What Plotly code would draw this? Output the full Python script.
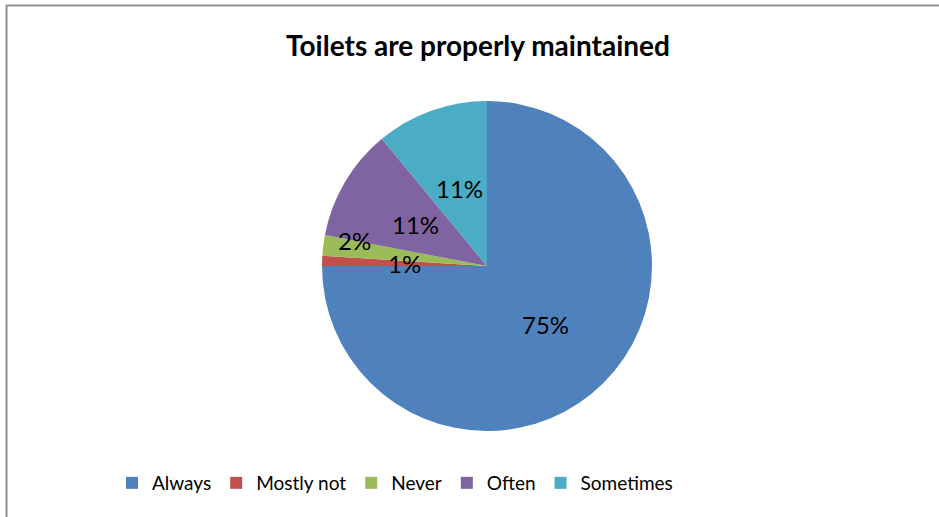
import math
import plotly.graph_objects as go

# ---- data ----
categories = ["Always", "Mostly not", "Never", "Often", "Sometimes"]
percentages = [75, 1, 2, 11, 11]
colors = ["#4F81BD", "#C0504D", "#9BBB59", "#8064A2", "#4BACC6"]
title_text = "Toilets are properly maintained"

# ---- layout constants ----
W, H = 939, 517
CX, CY, R = 487, 266, 165
label_r = [0.5, 0.5, 0.81, 0.5, 0.5]   # radial position of each label (fraction of radius)
label_dy = [0, 0, -9, 0, 0]            # small vertical nudge (px)
FONT = "Lato"

fig = go.Figure()
fig.add_trace(go.Pie(
    labels=categories,
    values=percentages,
    sort=False,
    direction="clockwise",
    rotation=0,
    marker=dict(colors=colors, line=dict(width=0)),
    textinfo="none",
    hoverinfo="label+percent",
    domain=dict(x=[(CX - R) / W, (CX + R) / W], y=[(H - CY - R) / H, (H - CY + R) / H]),
))

# percentage labels positioned from cumulative slice angles
total = sum(percentages)
cum = 0
annotations = []
for i, v in enumerate(percentages):
    mid = (cum + v / 2) / total * 2 * math.pi
    cum += v
    r = R * label_r[i]
    px = CX + r * math.sin(mid)
    py = CY - r * math.cos(mid) + label_dy[i]
    annotations.append(dict(
        x=px / W, y=1 - py / H, xref="paper", yref="paper",
        text=f"{round(v / total * 100)}%", showarrow=False,
        font=dict(family=FONT, size=24, color="#000000"),
        xanchor="center", yanchor="middle",
    ))

fig.update_layout(
    width=W, height=H,
    margin=dict(l=0, r=0, t=0, b=0),
    paper_bgcolor="#FFFFFF",
    plot_bgcolor="#FFFFFF",
    title=dict(text=f"<b>{title_text}</b>", x=478 / W, y=1 - 46 / H,
               xanchor="center", yanchor="middle",
               font=dict(family=FONT, size=28, color="#000000")),
    legend=dict(orientation="h", x=395 / W, y=1 - 483 / H, xanchor="center", yanchor="middle",
                font=dict(family=FONT, size=19, color="#000000"),
                itemwidth=30, traceorder="normal"),
    showlegend=True,
    annotations=annotations,
    shapes=[dict(type="rect", xref="paper", yref="paper",
                 x0=6.5 / W, x1=1.02, y0=-0.02, y1=1 - 5.5 / H,
                 line=dict(color="#8E8E8E", width=2))],
)

fig.write_html("out.html", config={"displayModeBar": False},
               post_script="document.body.style.margin='0';document.body.style.overflow='hidden';")
